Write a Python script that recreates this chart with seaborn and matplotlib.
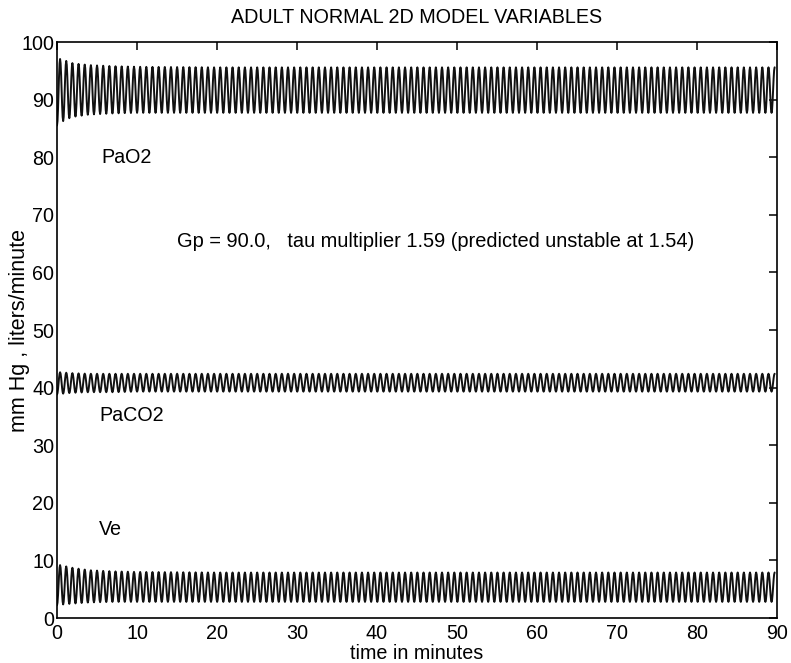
import numpy as np
import pandas as pd
import matplotlib
matplotlib.use("Agg")
import matplotlib.pyplot as plt
import seaborn as sns

# ---- data ----
period_min = 0.77            # oscillation period (minutes)
t_end = 90.0

# envelope knots (time in minutes) and peak / trough values at those times
env_t = [0, 1, 2, 4, 7, 10, 20, 90]
pao2_peak = [97.2, 96.8, 96.3, 96.0, 95.8, 95.7, 95.6, 95.6]
pao2_trough = [85.5, 86.5, 87.0, 87.4, 87.6, 87.7, 87.7, 87.7]
paco2_peak = [42.7, 42.6, 42.5, 42.4, 42.4, 42.4, 42.4, 42.4]
paco2_trough = [38.8, 39.0, 39.1, 39.2, 39.2, 39.3, 39.3, 39.3]
ve_peak = [9.3, 9.0, 8.7, 8.3, 8.1, 8.0, 7.9, 7.9]
ve_trough = [2.2, 2.4, 2.5, 2.7, 2.8, 2.8, 2.8, 2.8]

labels = ["PaO2", "PaCO2", "Ve"]
label_pos_t = [5.6, 5.3, 5.3]
label_pos_v = [80.0, 35.2, 15.3]

title = "ADULT NORMAL 2D MODEL VARIABLES"
xlabel = "time in minutes"
ylabel = "mm Hg , liters/minute"
note = "Gp = 90.0,   tau multiplier 1.59 (predicted unstable at 1.54)"
xticks = [0, 10, 20, 30, 40, 50, 60, 70, 80, 90]
yticks = [0, 10, 20, 30, 40, 50, 60, 70, 80, 90, 100]


def series(peaks, troughs):
    # alternating extrema every half period; smooth with a few samples per half cycle
    n_half = int(t_end / (period_min / 2))
    te = np.arange(n_half + 1) * period_min / 2
    pk = np.interp(te, env_t, peaks)
    tr = np.interp(te, env_t, troughs)
    ext = np.where(np.arange(n_half + 1) % 2 == 0, tr, pk)
    ts, vs = [], []
    sub = 6
    for i in range(n_half):
        for j in range(sub):
            f = j / sub
            w = (1 - np.cos(np.pi * f)) / 2
            ts.append(te[i] + f * (te[i + 1] - te[i]))
            vs.append(ext[i] + w * (ext[i + 1] - ext[i]))
    ts.append(te[-1]); vs.append(ext[-1])
    return np.array(ts), np.array(vs)


frames = []
for name, pk, tr in [("PaO2", pao2_peak, pao2_trough),
                     ("PaCO2", paco2_peak, paco2_trough),
                     ("Ve", ve_peak, ve_trough)]:
    t, v = series(pk, tr)
    frames.append(pd.DataFrame({"t": t, "v": v, "var": name}))
df = pd.concat(frames, ignore_index=True)

sns.set_style("white")
plt.rcParams["font.family"] = ["Liberation Sans", "DejaVu Sans"]
plt.rcParams["text.color"] = "black"
plt.rcParams["axes.labelcolor"] = "black"
plt.rcParams["xtick.color"] = "black"
plt.rcParams["ytick.color"] = "black"

FS = 14.2
fig = plt.figure(figsize=(7.91, 6.63), dpi=100)
ax = fig.add_axes([57 / 791, 1 - 618 / 663, 720 / 791, 576 / 663])

for name in ["PaO2", "PaCO2", "Ve"]:
    sub_df = df[df["var"] == name]
    sns.lineplot(data=sub_df, x="t", y="v", ax=ax, color="#111111",
                 linewidth=1.4, estimator=None, sort=False, legend=False)

ax.set_xlim(0, 90)
ax.set_ylim(0, 100)
ax.set_xticks(xticks)
ax.set_yticks(yticks)
ax.tick_params(direction="in", length=6, width=1.1, top=True, right=True,
               labelsize=FS, colors="black")
ax.tick_params(axis="x", pad=4)
ax.tick_params(axis="y", pad=2)
for s in ax.spines.values():
    s.set_color("black")
    s.set_linewidth(1.2)

ax.set_title(title, fontsize=FS, pad=14, color="black")
ax.set_xlabel(xlabel, fontsize=FS, labelpad=1, color="black")
ax.set_ylabel(ylabel, fontsize=15.5, labelpad=-6, color="black")

for lab, tx, vy in zip(labels, label_pos_t, label_pos_v):
    ax.text(tx, vy, lab, fontsize=FS, va="center", ha="left", color="black")
ax.text(15.0, 65.3, note, fontsize=14.4, va="center", ha="left", color="black")

fig.savefig("out.png", dpi=100)
